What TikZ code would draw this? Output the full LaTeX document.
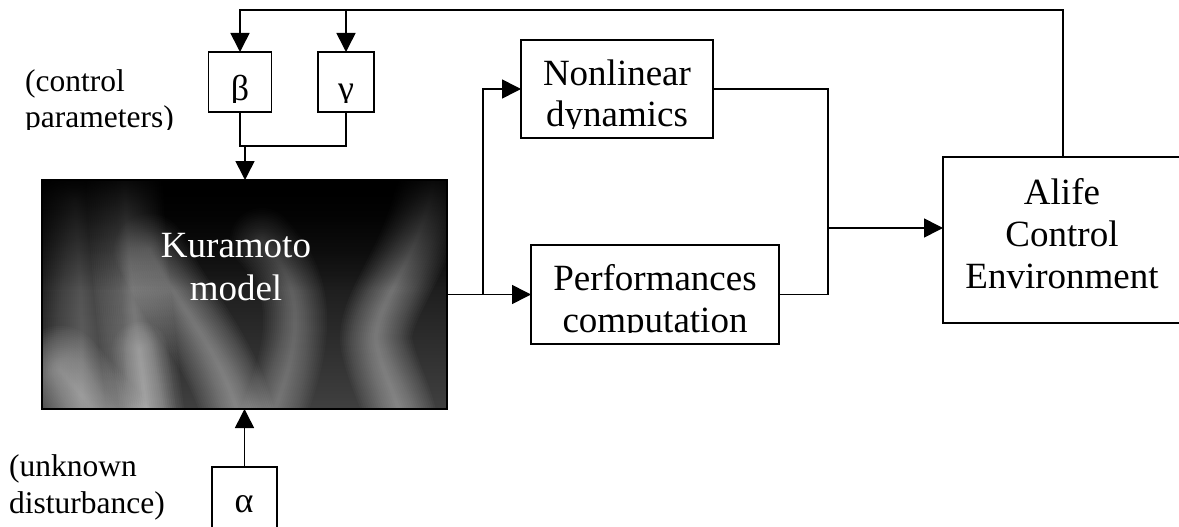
\documentclass[tikz,border=0pt]{standalone}
\usepackage{fontspec}
\setmainfont{Liberation Serif}
\usetikzlibrary{arrows.meta,fadings}
\newcommand\kstreak[3]{\foreach \w in {#2} \draw[white, opacity=#3, line width=\w pt, line cap=round] #1;}
\begin{document}
\begin{tikzpicture}[x=1pt,y=-1pt,
  box/.style={draw, line width=1.6pt, rectangle, inner sep=0pt, outer sep=0pt},
  txt/.style={font=\fontsize{37}{42}\selectfont, anchor=base, inner sep=0pt},
  lbl/.style={font=\fontsize{31.5}{36}\selectfont, anchor=base west, inner sep=0pt},
  grk/.style={font=\fontsize{36}{40}\selectfont, anchor=base, inner sep=0pt},
  wire/.style={line width=1.6pt},
  arr/.style={wire, -{Triangle[length=19pt,width=19pt]}},
]
\clip (0,0) rectangle (1179,527);
\fill[white] (0,0) rectangle (1179,527);

% Kuramoto model box with blurred background
\node[box, minimum width=405pt, minimum height=229pt, fill=black] (kur) at (244.5,294.5) {};
\begin{scope}
  \clip (kur.north west) rectangle (kur.south east);
  \shade[top color=black, middle color=black!90!white, bottom color=black!75!white] (kur.north west) rectangle (kur.south east);
  \kstreak{(75,200) .. controls (80,280) and (85,330) .. (80,440)}{4,8,...,80}{0.014}
  \kstreak{(60,370) -- (120,440)}{4,8,...,90}{0.022}
  \kstreak{(124,170) .. controls (128,260) and (135,330) .. (150,440)}{4,8,...,76}{0.027}
  \kstreak{(140,350) -- (152,440)}{4,8,...,56}{0.022}
  \kstreak{(150,250) .. controls (185,320) and (225,350) .. (245,440)}{4,8,...,72}{0.027}
  \kstreak{(262,240) .. controls (300,280) and (312,330) .. (262,440)}{4,8,...,64}{0.025}
  \kstreak{(435,170) .. controls (425,260) and (365,310) .. (378,350) .. controls (385,380) and (400,400) .. (405,440)}{4,8,...,72}{0.027}
  \fill[black, opacity=0.9, path fading=south] (kur.north west) rectangle ([yshift=-110pt]kur.north east);
\end{scope}
\draw[line width=1.6pt] (kur.north west) rectangle (kur.south east);
\node[txt, text=white] (kt1) at (236,257) {Kuramoto};
\node[txt, text=white] (kt2) at (236,300) {model};

% parameter boxes
\node[box, minimum width=63pt, minimum height=60pt] (beta) at (240,82) {};
\node[box, minimum width=56pt, minimum height=60pt] (gamma) at (346,82) {};
\begin{scope}
  \clip (205,50) rectangle (380,102.5);
  \node[grk] (bt) at (240,100) {β};
  \node[grk] (gt) at (346,101) {γ};
\end{scope}
\node[box, minimum width=65pt, minimum height=80pt] (alpha) at (244.5,507) {};
\node[grk] (at) at (244,512) {α};

% labels
\node[lbl] (cl1) at (25,92) {(control};
\begin{scope}
  \clip (0,95) rectangle (200,129);
  \node[lbl] (cl2) at (25,128) {parameters)};
\end{scope}
\node[lbl] (ul1) at (9,476) {(unknown};
\node[lbl] (ul2) at (9,513) {disturbance)};

% Nonlinear dynamics
\node[box, minimum width=192pt, minimum height=98pt] (nl) at (617,89) {};
\begin{scope}
  \clip (521,40) rectangle (713,128.5);
  \node[txt] (nt1) at (617,85) {Nonlinear};
  \node[txt] (nt2) at (617,127) {dynamics};
\end{scope}

% Performances computation
\node[box, minimum width=248pt, minimum height=99pt] (pc) at (655,294.5) {};
\begin{scope}
  \clip (531,245) rectangle (779,332.5);
  \node[txt] (pt1) at (655,290) {Performances};
  \node[txt] (pt2) at (655,332) {computation};
\end{scope}

% Alife Control Environment
\node[box, minimum width=247pt, minimum height=166pt] (ace) at (1066.5,240) {};
\node[txt] (at1) at (1062,204) {Alife};
\node[txt] (at2) at (1062,246) {Control};
\node[txt] (at3) at (1062,288) {Environment};

% connectors
\coordinate (j1) at (483,294.5);
\coordinate (j2) at (828,294.5);
\coordinate (j3) at (828,228);
\coordinate (t1) at (1063,10);
\coordinate (jb) at (245,146);

\draw[arr] (kur.east) -- (pc.west);
\draw[arr] (j1) |- (nl.west);
\draw[wire] (nl.east) -| (j2) -- (pc.east);
\draw[arr] (j3) -- (j3 -| ace.west);
\draw[arr] (ace.north -| t1) -- (t1) -| (beta.north);
\draw[arr] (gamma.north |- t1) -- (gamma.north);
\draw[wire] (beta.south) |- (gamma.south |- jb) -- (gamma.south);
\draw[arr] (jb) -- (jb |- kur.north);
\draw[arr] (alpha.north) -- (alpha.north |- kur.south);
\end{tikzpicture}
\end{document}
